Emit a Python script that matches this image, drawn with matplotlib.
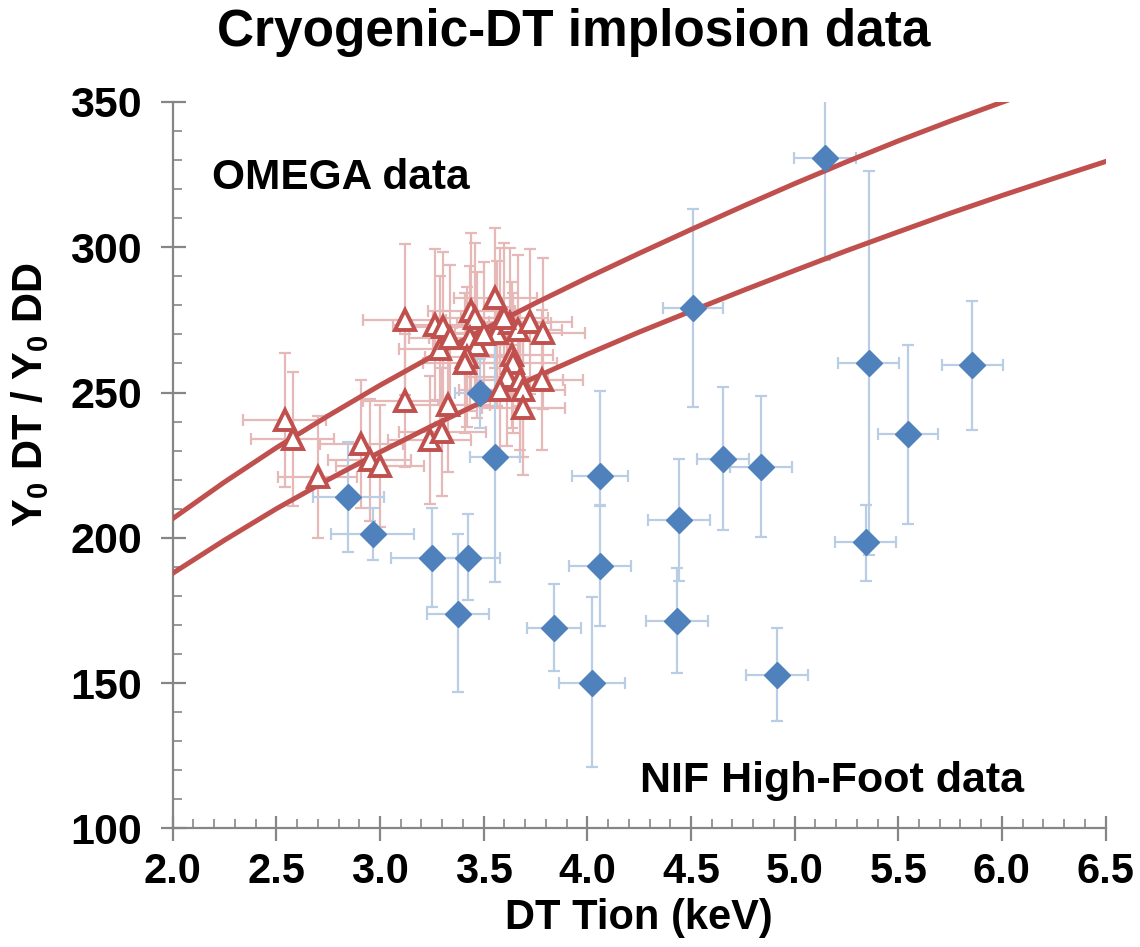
import matplotlib
matplotlib.use("Agg")
import matplotlib.pyplot as plt
from matplotlib.ticker import MultipleLocator, FormatStrFormatter

plt.rcParams['font.family'] = ['Liberation Sans', 'DejaVu Sans']
plt.rcParams['font.weight'] = 'bold'
plt.rcParams['mathtext.fontset'] = 'custom'
plt.rcParams['mathtext.rm'] = 'Liberation Sans:bold'
plt.rcParams['mathtext.bf'] = 'Liberation Sans:bold'
plt.rcParams['mathtext.default'] = 'rm'

# model curves
curve_t = [2.0, 2.25, 2.5, 2.75, 3.0, 3.25, 3.5, 3.75, 4.0, 4.25,
           4.5, 4.75, 5.0, 5.25, 5.5, 5.75, 6.0, 6.25, 6.5]
curve_low = [187.8, 199.2, 210.0, 220.0, 229.5, 238.5, 247.0, 255.3, 263.2, 270.8,
             278.0, 285.1, 292.0, 298.8, 305.3, 311.7, 317.8, 323.7, 329.5]
curve_high = [206.6, 219.2, 231.0, 242.0, 252.5, 262.4, 271.7, 280.8, 289.5, 297.9,
              306.1, 314.1, 321.9, 329.4, 336.6, 343.4, 349.9, 356.2, 362.3]

# OMEGA cryo-DT shots
omega_t = [2.54, 2.58, 2.70, 2.91, 2.95, 3.00, 3.12, 3.12, 3.24, 3.30,
           3.33, 3.265, 3.305, 3.29, 3.338, 3.44, 3.458, 3.434, 3.466, 3.418,
           3.408, 3.555, 3.58, 3.563, 3.627, 3.667, 3.724, 3.788, 3.635, 3.643,
           3.611, 3.579, 3.675, 3.691, 3.691, 3.78, 3.60, 3.50]
omega_r = [240.5, 233.9, 221.0, 232.3, 226.8, 224.7, 275.0, 247.2, 233.7, 236.5,
           245.6, 273.4, 272.4, 265.0, 268.8, 277.9, 275.6, 268.7, 266.4, 262.3,
           260.1, 282.5, 273.8, 270.4, 273.8, 271.5, 274.4, 270.4, 262.9, 260.1,
           255.5, 250.9, 254.3, 250.9, 244.6, 254.3, 275.5, 270.0]
omega_terr = [0.2, 0.2, 0.19, 0.2, 0.2, 0.21, 0.2, 0.2, 0.2, 0.21,
              0.2, 0.2, 0.21, 0.2, 0.2, 0.21, 0.2, 0.2, 0.21, 0.2,
              0.2, 0.2, 0.21, 0.2, 0.2, 0.21, 0.2, 0.2, 0.2, 0.21,
              0.2, 0.2, 0.21, 0.2, 0.2, 0.2, 0.21, 0.2]
omega_rerr = [23, 23, 21, 22, 21, 21, 26, 23, 22, 22,
              23, 26, 26, 25, 25, 27, 26, 25, 25, 24,
              24, 24, 26, 25, 26, 26, 25, 26, 25, 24,
              24, 23, 24, 23, 23, 24, 26, 25]

# NIF high-foot shots
nif_t = [2.847, 2.965, 3.252, 3.426, 3.378, 3.482, 3.555, 3.839, 4.024, 4.061, 4.06,
         4.434, 4.442, 4.511, 4.655, 4.838, 4.915, 5.147, 5.343, 5.357, 5.547, 5.857]
nif_r = [214.1, 201.2, 193.2, 193.2, 173.8, 249.7, 227.8, 169.0, 150.0, 221.4, 190.3,
         171.5, 206.0, 279.0, 227.2, 224.4, 152.9, 330.7, 198.5, 260.1, 235.6, 259.5]
nif_terr = [0.17, 0.2, 0.2, 0.155, 0.15, 0.12, 0.12, 0.13, 0.16, 0.135, 0.15,
            0.15, 0.15, 0.145, 0.125, 0.15, 0.15, 0.15, 0.147, 0.147, 0.146, 0.147]
nif_rlo = [19, 9, 17, 14.6, 27, 12, 43, 15, 29, 10, 20.7,
           18, 21, 34, 24.5, 24.2, 15.9, 35, 13.2, 66, 31, 22.4]
nif_rhi = [19, 9, 17, 15, 27.4, 12, 43, 15, 29.5, 29, 20.7,
           18, 21, 34, 24.6, 24.4, 15.9, 35, 12.9, 66, 30.8, 22.1]

red = '#C0504D'
blue = '#4F81BD'
light_red = '#E6B9B8'
light_blue = '#B9CDE5'
axis_grey = '#868686'

fig = plt.figure(figsize=(11.4, 9.47), dpi=100)
ax = fig.add_axes([0.1515, 0.1253, 0.8183, 0.767])

ax.errorbar(omega_t, omega_r, xerr=omega_terr, yerr=omega_rerr, fmt='none',
            ecolor=light_red, elinewidth=1.6, capsize=4.5, capthick=1.6, zorder=2)
ax.errorbar(nif_t, nif_r, xerr=nif_terr, yerr=[nif_rlo, nif_rhi], fmt='none',
            ecolor=light_blue, elinewidth=1.6, capsize=4.5, capthick=1.6, zorder=2)

ax.plot(curve_t, curve_low, color=red, lw=3.6, zorder=3)
ax.plot(curve_t, curve_high, color=red, lw=3.6, zorder=3)

ax.plot(nif_t, nif_r, 'D', color=blue, ms=13, mec=blue, zorder=4)
ax.plot(omega_t, omega_r, '^', ms=14, mfc='white', mec=red, mew=2.8, zorder=5)

ax.set_xlim(2.0, 6.5)
ax.set_ylim(100, 350)
ax.xaxis.set_major_locator(MultipleLocator(0.5))
ax.xaxis.set_minor_locator(MultipleLocator(0.1))
ax.yaxis.set_major_locator(MultipleLocator(50))
ax.yaxis.set_minor_locator(MultipleLocator(10))
ax.xaxis.set_major_formatter(FormatStrFormatter('%.1f'))

for s in ['top', 'right']:
    ax.spines[s].set_visible(False)
for s in ['left', 'bottom']:
    ax.spines[s].set_color(axis_grey)
    ax.spines[s].set_linewidth(1.6)

ax.tick_params(which='major', direction='inout', length=18, width=1.6,
               color=axis_grey)
ax.tick_params(axis='x', which='major', labelsize=30, pad=8)
ax.tick_params(axis='y', which='major', labelsize=31, pad=13)
ax.tick_params(which='minor', direction='in', length=6.5, width=1.2, color=axis_grey)
for lab in ax.get_xticklabels() + ax.get_yticklabels():
    lab.set_fontweight('bold')

ax.set_xlabel('DT Tion (keV)', fontsize=30, fontweight='bold')
ax.xaxis.set_label_coords(0.5, -0.124)
ax.xaxis.label.set_va('center')
ax.set_ylabel(r'Y$_0$ DT / Y$_0$ DD', fontsize=30, fontweight='bold')
ax.yaxis.set_label_coords(-0.153, 0.597)
ax.yaxis.label.set_va('center')

ax.text(2.19, 323.9, 'OMEGA data', fontsize=30.5, fontweight='bold', va='center', ha='left')
ax.text(4.255, 116.3, 'NIF High-Foot data', fontsize=31, fontweight='bold', va='center', ha='left')

fig.text(0.503, 0.966, 'Cryogenic-DT implosion data', fontsize=37, fontweight='bold',
         ha='center', va='center')

fig.savefig('out.png', dpi=100)
